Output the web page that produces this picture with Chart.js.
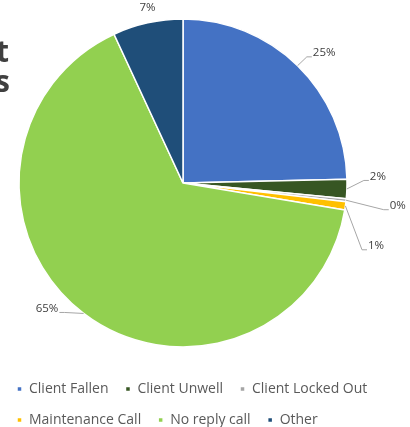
<!DOCTYPE html>
<html><head><meta charset="utf-8">
<style>html,body{margin:0;padding:0;background:#fff;overflow:hidden}#wrap{position:relative;width:410px;height:427px}</style>
<script src="https://cdn.jsdelivr.net/npm/chart.js@4.4.1/dist/chart.umd.min.js"></script>
</head><body><div id="wrap"><canvas id="c" width="410" height="427"></canvas></div>
<script>
// ---- data ----
const categories = ['Client Fallen', 'Client Unwell', 'Client Locked Out', 'Maintenance Call', 'No reply call', 'Other'];
const values = [24.6, 1.9, 0.3, 0.8, 65.4, 6.9];
const colors = ['#4472C4', '#375623', '#A5A5A5', '#FFC000', '#92D050', '#1F4E79'];
const titleFragments = ['t', 's'];

// ---- style / layout ----
const pieFrame = { cx: 183, cy: 183, r: 164 };
const labelLayout = [
  { da: 3, dr: 28, line: true },
  { da: -4, dr: 31, line: true },
  { da: 0, dr: 52, line: true },
  { da: 10, dr: 39, line: true },
  { da: 10, dr: 21, line: true },
  { da: 1, dr: 15, line: false }
];

Chart.defaults.font.family = '"Open Sans", sans-serif';

const pieFramePlugin = {
  id: 'pieFrame',
  afterLayout(chart) {
    const a = chart.chartArea;
    a.left = pieFrame.cx - pieFrame.r; a.right = pieFrame.cx + pieFrame.r;
    a.top = pieFrame.cy - pieFrame.r; a.bottom = pieFrame.cy + pieFrame.r;
    a.width = a.right - a.left; a.height = a.bottom - a.top;
  }
};

const labelPlugin = {
  id: 'pctLabels',
  afterDatasetsDraw(chart) {
    const ctx = chart.ctx;
    const meta = chart.getDatasetMeta(0);
    const total = values.reduce((s, v) => s + v, 0);
    ctx.save();
    ctx.font = '11.5px "Open Sans"';
    ctx.textBaseline = 'middle';
    meta.data.forEach((arc, i) => {
      const p = arc.getProps(['x', 'y', 'startAngle', 'endAngle', 'outerRadius'], true);
      const mid = (p.startAngle + p.endAngle) / 2;
      const cfg = labelLayout[i];
      const a = mid + cfg.da * Math.PI / 180;
      const d = p.outerRadius + cfg.dr;
      const tx = p.x + d * Math.cos(a), ty = p.y + d * Math.sin(a);
      const text = Math.round(values[i] / total * 100) + '%';
      const w = ctx.measureText(text).width;
      if (cfg.line) {
        const right = tx >= p.x;
        const ex = right ? tx - w / 2 - 1 : tx + w / 2 + 1;
        const ey = ty + 4;
        const bx = right ? ex - 5 : ex + 5;
        const sx = p.x + p.outerRadius * Math.cos(mid), sy = p.y + p.outerRadius * Math.sin(mid);
        ctx.strokeStyle = '#A6A6A6'; ctx.lineWidth = 1;
        ctx.beginPath(); ctx.moveTo(sx, sy); ctx.lineTo(bx, ey); ctx.lineTo(ex, ey); ctx.stroke();
      }
      ctx.fillStyle = '#404040';
      ctx.textAlign = 'center';
      ctx.fillText(text, tx, ty);
    });
    ctx.restore();
  }
};

const titlePlugin = {
  id: 'titleFrag',
  afterDraw(chart) {
    const ctx = chart.ctx;
    ctx.save();
    ctx.font = 'bold 30px "Open Sans"';
    ctx.fillStyle = '#404040';
    ctx.textAlign = 'right';
    ctx.textBaseline = 'alphabetic';
    ctx.fillText(titleFragments[0], 9, 62);
    ctx.fillText(titleFragments[1], 10, 92);
    ctx.restore();
  }
};

new Chart(document.getElementById('c'), {
  type: 'pie',
  data: {
    labels: categories,
    datasets: [{
      data: values,
      backgroundColor: colors,
      borderColor: '#ffffff',
      borderWidth: 1.5,
      radius: pieFrame.r,
      clip: false
    }]
  },
  options: {
    responsive: false,
    devicePixelRatio: 1,
    animation: false,
    layout: { padding: { left: 0, right: 0, top: 0, bottom: -10 } },
    plugins: {
      tooltip: { enabled: false },
      legend: {
        position: 'bottom',
        align: 'start',
        labels: {
          boxWidth: 5, boxHeight: 5, padding: 17,
          color: '#595959',
          font: { family: '"Open Sans"', size: 14 }
        }
      }
    }
  },
  plugins: [pieFramePlugin, labelPlugin, titlePlugin]
});
</script></body></html>
